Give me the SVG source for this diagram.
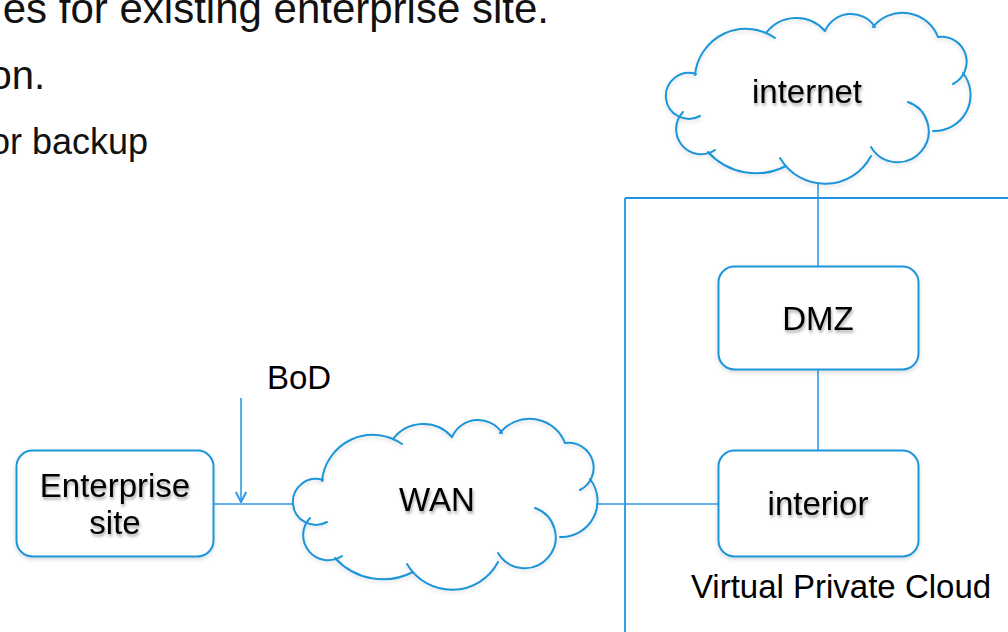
<svg xmlns="http://www.w3.org/2000/svg" xmlns:xlink="http://www.w3.org/1999/xlink" width="1008" height="632" viewBox="0 0 1008 632">
<style>
.bg{fill:#ffffff}
.top{font-family:"Liberation Sans",Arial,Helvetica,sans-serif;fill:#111}
.lbl{font-family:"Liberation Sans",Arial,Helvetica,sans-serif;font-size:33px;fill:#000;text-anchor:middle;filter:url(#tshadow)}
.plain{font-family:"Liberation Sans",Arial,Helvetica,sans-serif;font-size:33px;fill:#000}
.box{fill:#fff;stroke:#1e96d8;stroke-width:2;filter:url(#sshadow)}
.cloud{fill:none;stroke:#1e96d8;stroke-width:2;stroke-linecap:round;filter:url(#sshadow)}
.conn{fill:none;stroke:#2f9be8;stroke-width:1.6}
.frame{fill:none;stroke:#2196e0;stroke-width:1.8}
</style>
<defs>
<filter id="tshadow" x="-20%" y="-30%" width="140%" height="170%">
<feDropShadow dx="1" dy="2.5" stdDeviation="1.6" flood-color="#000" flood-opacity="0.35"/>
</filter>
<filter id="sshadow" x="-10%" y="-10%" width="120%" height="130%">
<feDropShadow dx="0" dy="2" stdDeviation="2" flood-color="#000" flood-opacity="0.15"/>
</filter>
<marker id="chev" markerUnits="userSpaceOnUse" viewBox="0 0 12 12" refX="11" refY="6" markerWidth="12" markerHeight="12" orient="auto">
<path d="M1,0.8 L11,6 L1,11.2" fill="none" stroke="#2f9be8" stroke-width="2"/>
</marker>
<path id="cloudShape" class="cloud" d="M322,481 A51,51 0 0 1 402,444 M393,439 A38,38 0 0 1 452,437 M452,437 A28.5,28.5 0 0 1 502,433 M500,433 A38,38 0 0 1 565,443 M565,443 A25,25 0 0 1 580,490 M590,479 A36,36 0 0 1 560,537 M535,508 A31,31 0 1 1 498,553 M498,562 A52,52 0 0 1 407,564 M413,572 A65,65 0 0 1 335,558 M342,556 A25,25 0 0 1 310,518 M327,522 A23,23 0 1 1 323,480"/>
</defs>
<rect class="bg" x="0" y="0" width="1008" height="632"/>

<g id="intro-text">
<text class="top" x="549" y="23" font-size="42" text-anchor="end">es for existing enterprise site.</text>
<text class="top" x="45" y="89" font-size="40" text-anchor="end">on.</text>
<text class="top" x="148" y="154" font-size="36" text-anchor="end">or backup</text>
</g>

<g id="connectors">
<path class="conn" d="M818,184 V266"/>
<path class="frame" d="M625,198 H1008 M625,198 V632"/>
<path class="conn" d="M818,370 V450"/>
<path class="conn" d="M597,504 H718"/>
<path class="conn" d="M214,504 H293"/>
<path class="conn" d="M241,398 V502" marker-end="url(#chev)"/>
<text class="plain" x="267" y="389">BoD</text>
</g>

<g id="internet">
<use xlink:href="#cloudShape" href="#cloudShape" x="373" y="-406"/>
<text class="lbl" x="807" y="103">internet</text>
</g>

<g id="wan">
<use xlink:href="#cloudShape" href="#cloudShape"/>
<text class="lbl" x="437" y="511">WAN</text>
</g>

<g id="enterprise-site">
<rect class="box" x="16.5" y="450.5" width="197" height="106" rx="16"/>
<text class="lbl" x="115" y="497">Enterprise</text>
<text class="lbl" x="115" y="534">site</text>
</g>

<g id="dmz">
<rect class="box" x="718.5" y="266.5" width="200" height="103" rx="16"/>
<text class="lbl" x="818" y="330">DMZ</text>
</g>

<g id="interior">
<rect class="box" x="718.5" y="450.5" width="200" height="106" rx="16"/>
<text class="lbl" x="818" y="515">interior</text>
</g>

<g id="vpc-label">
<text class="plain" x="841" y="598" text-anchor="middle">Virtual Private Cloud</text>
</g>
</svg>
